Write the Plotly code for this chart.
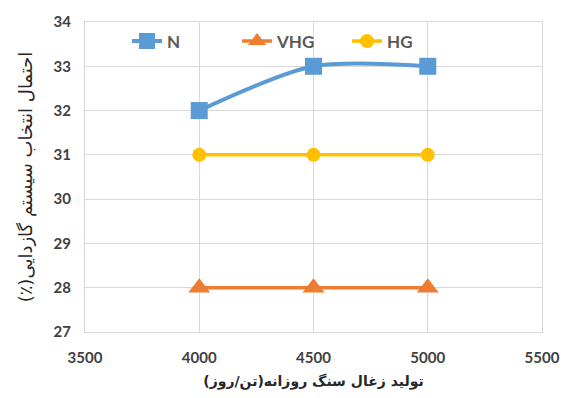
import plotly.graph_objects as go

# Daily coal production (t/day) and gasification-system selection probability (%)
production = [4000, 4500, 5000]
series_names = ["N", "VHG", "HG"]
n_values = [32, 33, 33]
vhg_values = [28, 28, 28]
hg_values = [31, 31, 31]

x_ticks = [3500, 4000, 4500, 5000, 5500]
y_ticks = [27, 28, 29, 30, 31, 32, 33, 34]

x_title = "تولید زغال سنگ روزانه(تن/روز)"
# right-to-left embedding keeps the parenthesised unit at the end of the phrase
y_title = "\u202Bاحتمال انتخاب سیستم گازدایی(٪)\u202C"

fig = go.Figure()
fig.add_trace(go.Scatter(
    x=production, y=n_values, name=series_names[0], mode="lines+markers",
    line=dict(color="#5B9BD5", width=4, shape="spline", smoothing=0.8),
    marker=dict(symbol="square", size=17, color="#5B9BD5"),
))
fig.add_trace(go.Scatter(
    x=production, y=vhg_values, name=series_names[1], mode="lines+markers",
    line=dict(color="#ED7D31", width=3.5),
    marker=dict(symbol="triangle-up", size=19, color="#ED7D31"),
))
fig.add_trace(go.Scatter(
    x=production, y=hg_values, name=series_names[2], mode="lines+markers",
    line=dict(color="#FFC000", width=3.5),
    marker=dict(symbol="circle", size=14, color="#FFC000"),
))

tick_font = dict(family="Lato, Arial", size=15, color="#404040", weight="bold")

fig.update_layout(
    width=563, height=398,
    margin=dict(l=85, r=21, t=22, b=66),
    paper_bgcolor="white", plot_bgcolor="white",
    showlegend=True,
    legend=dict(
        orientation="h", x=0.092, y=0.995, xanchor="left", yanchor="top",
        bgcolor="rgba(255,255,255,0)",
        font=dict(family="Lato, Arial", size=17, color="#595959", weight="bold"),
        entrywidthmode="pixels", entrywidth=65, tracegroupgap=0,
    ),
    xaxis=dict(
        range=[3500, 5500], tickvals=x_ticks, ticktext=[str(v) for v in x_ticks],
        showgrid=True, gridcolor="#D9D9D9", gridwidth=1, automargin=False,
        zeroline=False, showline=True, linecolor="#D9D9D9", mirror=True,
        tickfont=tick_font, ticks="", ticklabelstandoff=12,
        title=dict(text=x_title, font=dict(family="DejaVu Sans", size=14, color="#262626",
                                           weight="bold"),
                   standoff=11),
    ),
    yaxis=dict(
        range=[27, 34], tickvals=y_ticks,
        showgrid=True, gridcolor="#D9D9D9", gridwidth=1, automargin=False,
        zeroline=False, showline=True, linecolor="#D9D9D9", mirror=True,
        tickfont=tick_font, ticks="", ticklabelstandoff=10,
        title=dict(text=y_title, font=dict(family="DejaVu Sans", size=18, color="#262626"),
                   standoff=16),
    ),
)

fig.write_html("out.html")
